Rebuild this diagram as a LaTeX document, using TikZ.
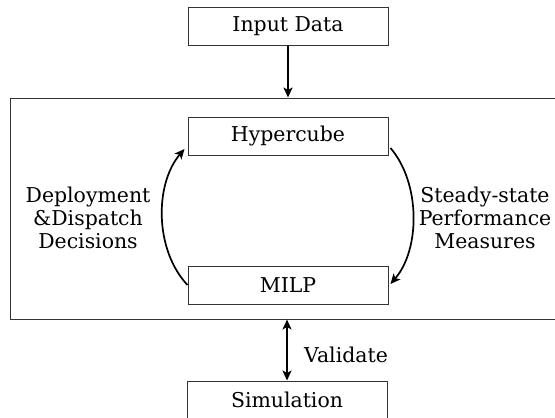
\documentclass[tikz,border=0pt]{standalone}
\usepackage{fontspec}
\setmainfont{DejaVu Serif}
\usepackage{tikz}
\usetikzlibrary{arrows.meta, calc}

\tikzset{
  blk/.style={draw=black!80, line width=1bp, minimum width=200bp, minimum height=38bp, inner sep=0pt},
  frm/.style={draw=black!80, line width=1bp, minimum width=554bp, minimum height=221bp, inner sep=0pt},
  tip/.tip={Stealth[length=10bp, width=9bp, inset=2.5bp]},
  flow/.style={line width=1.7bp, -tip},
  lbl/.style={align=center, inner sep=0pt}
}

\begin{document}
\begin{tikzpicture}[x=1bp, y=-1bp, font=\fontsize{20.5}{23}\selectfont]
      \useasboundingbox (0,0) rectangle (555,417);

      % Outer loop frame
      \node[frm] (loop) at (288,208.5) {};

      % Boxes
      \node[blk] (inp) at (288,26) {Input Data};
      \node[blk] (hyp) at (288,136.5) {Hypercube};
      \node[blk] (milp) at (288,285) {MILP};
      \node[blk] (sim) at (287,400) {Simulation};

      % Input into the loop
      \draw[flow] (inp.south) -- (inp.south |- loop.north);

      % The two curved arrows
      \draw[flow] (milp.west) .. controls +(-33,-35) and +(-30,35) .. ($(hyp.south west)+(-3,-7)$);
      \draw[flow] ($(hyp.south east)+(2,-8)$) .. controls +(30,35) and +(30,-35) .. ($(milp.east)+(2,-1)$);

      % Labels of the curves
      \node[lbl] (dec) at (88,218) {Deployment\\\&Dispatch\\Decisions};
      \node[lbl] (perf) at (485,218) {Steady-state\\Performance\\Measures};

      % Validation
      \draw[flow, tip-tip] (sim.north |- loop.south) -- (sim.north);
      \node[lbl] (val) at (346,355) {Validate};
\end{tikzpicture}
\end{document}
